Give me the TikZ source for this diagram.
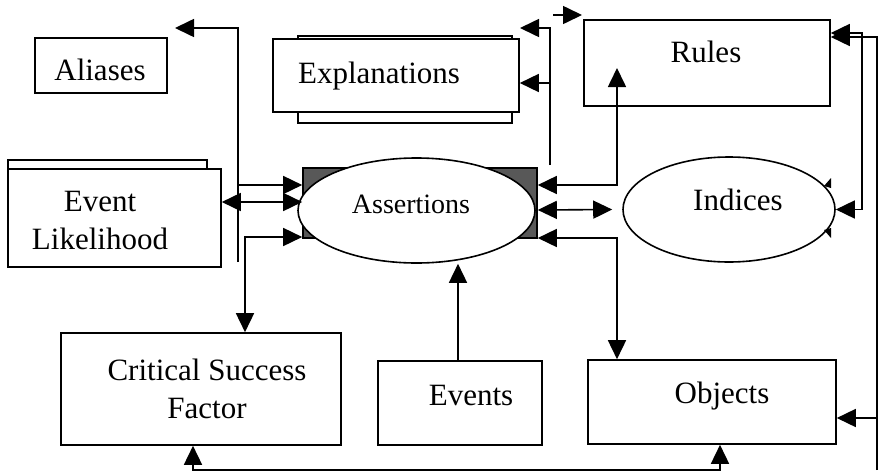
\documentclass[tikz,border=0pt]{standalone}
\usepackage{fontspec}
\setmainfont{Liberation Serif}
\usepackage{tikz}
\usetikzlibrary{arrows.meta,shapes.geometric}
\usepackage{xcolor}
\colorlet{bordercolor}{white}
\definecolor{shadecolor}{RGB}{88, 88, 88}

\begin{document}
\begin{tikzpicture}[x=1pt, y=-1pt,
        box/.style={draw, line width=1.6pt, fill=white, inner sep=0pt},
        blob/.style={draw, ellipse, line width=1.6pt, fill=white, inner sep=0pt},
        txt/.style={font=\fontsize{31}{38}\selectfont, align=center, inner sep=0pt},
        conn/.style={line width=1.6pt},
        >={Triangle[length=19pt, width=18pt]}]
        \useasboundingbox[fill=bordercolor] (0, 0) rectangle (878, 474); % pixel grid, y down
        % Boxes {{{
        \node[box, minimum width=132, minimum height=55] (aliases) at (101, 65.5) {};
        \node[box, minimum width=214, minimum height=87] (explback) at (405, 79.5) {};
        \node[box, minimum width=246, minimum height=73] (expl) at (396, 75.5) {};
        \node[box, minimum width=246, minimum height=86] (rules) at (707, 63) {};
        \node[box, minimum width=199, minimum height=40] (evlikback) at (107.5, 180) {};
        \node[box, minimum width=213, minimum height=98] (evlik) at (114.5, 218) {};
        \node[box, minimum width=280, minimum height=112] (csf) at (201, 389) {};
        \node[box, minimum width=164, minimum height=84] (events) at (460, 403) {};
        \node[box, minimum width=248, minimum height=84] (objects) at (712, 402) {};
        \node[box, fill=shadecolor, minimum width=234, minimum height=70] (assertbg) at (420, 203) {};
        \node[blob, minimum width=237, minimum height=105] (assert) at (416.5, 210.5) {};
        \node[blob, minimum width=212, minimum height=105] (indices) at (729, 209.5) {};
        % }}}
        % Texts {{{
        \node[txt, anchor=base] (aliasestxt) at (100, 80) {Aliases};
        \node[txt, anchor=base] (expltxt) at (379, 83) {Explanations};
        \node[txt, anchor=base] (rulestxt) at (706, 62) {Rules};
        \node[txt] (evliktxt) at (100, 220) {Event\\Likelihood};
        \node[txt] (csftxt) at (207, 389) {Critical Success\\Factor};
        \node[txt, anchor=base] (eventstxt) at (471, 405) {Events};
        \node[txt, anchor=base] (objectstxt) at (722, 403) {Objects};
        \node[txt, anchor=base, font=\fontsize{28}{34}\selectfont] (asserttxt) at (411, 213) {Assertions};
        \node[txt, anchor=base] (indicestxt) at (738, 210) {Indices};
        \fill (824, 186) -- (831, 178) -- (831, 188) -- cycle; % small marks on Indices
        \fill (824, 230) -- (831, 238) -- (831, 228) -- cycle;
        % }}}
        % Connectors, left {{{
        \coordinate (aliasfree) at (175, 28);
        \coordinate (leftfoot) at (238, 262);
        \draw[conn, ->] (leftfoot) -- (238, 28) -- (aliasfree);
        \draw[conn, ->] (238, 185) -- (assertbg.west |- 0, 185);
        \draw[conn, <->] (evlik.east |- 0, 202) -- (assertbg.west |- 0, 202);
        \draw[conn, <->] (245, 0 |- csf.north) -- (245, 237) -- (assertbg.west |- 0, 237);
        \draw[conn, ->] (458, 0 |- events.north) -- (458, 0 |- assert.south);
        \draw[conn, <->] (193, 0 |- csf.south) -- (193, 470) -- (720, 470) -- (720, 0 |- objects.south);
        % }}}
        % Connectors, right {{{
        \coordinate (rulesin) at (617, 68);
        \coordinate (explfree) at (520, 28);
        \coordinate (midfoot) at (550, 165);
        \coordinate (topa) at (553, 15);
        \coordinate (topb) at (582, 15);
        \draw[conn, <->] (assertbg.east |- 0, 185) -- (617, 185) -- (rulesin);
        \draw[conn, <->] (assertbg.east |- 0, 210) -- ([xshift=-10pt]indices.west);
        \draw[conn, <->] (assertbg.east |- 0, 238) -- (617, 238) -- (617, 0 |- objects.north);
        \draw[conn, ->] (midfoot) -- (550, 28) -- (explfree);
        \draw[conn, ->] (550, 83) -- (expl.east |- 0, 83);
        \draw[conn, ->] (topa) -- (topb);
        \draw[conn, <->] (indices.east) -- (862, 0 |- indices.east) -- (862, 33) -- (rules.east |- 0, 33);
        \draw[conn, ->] (877, 470) -- (877, 37) -- (rules.east |- 0, 37);
        \draw[conn, ->] (877, 418) -- (objects.east |- 0, 418);
        % }}}
\end{tikzpicture}
\end{document}
